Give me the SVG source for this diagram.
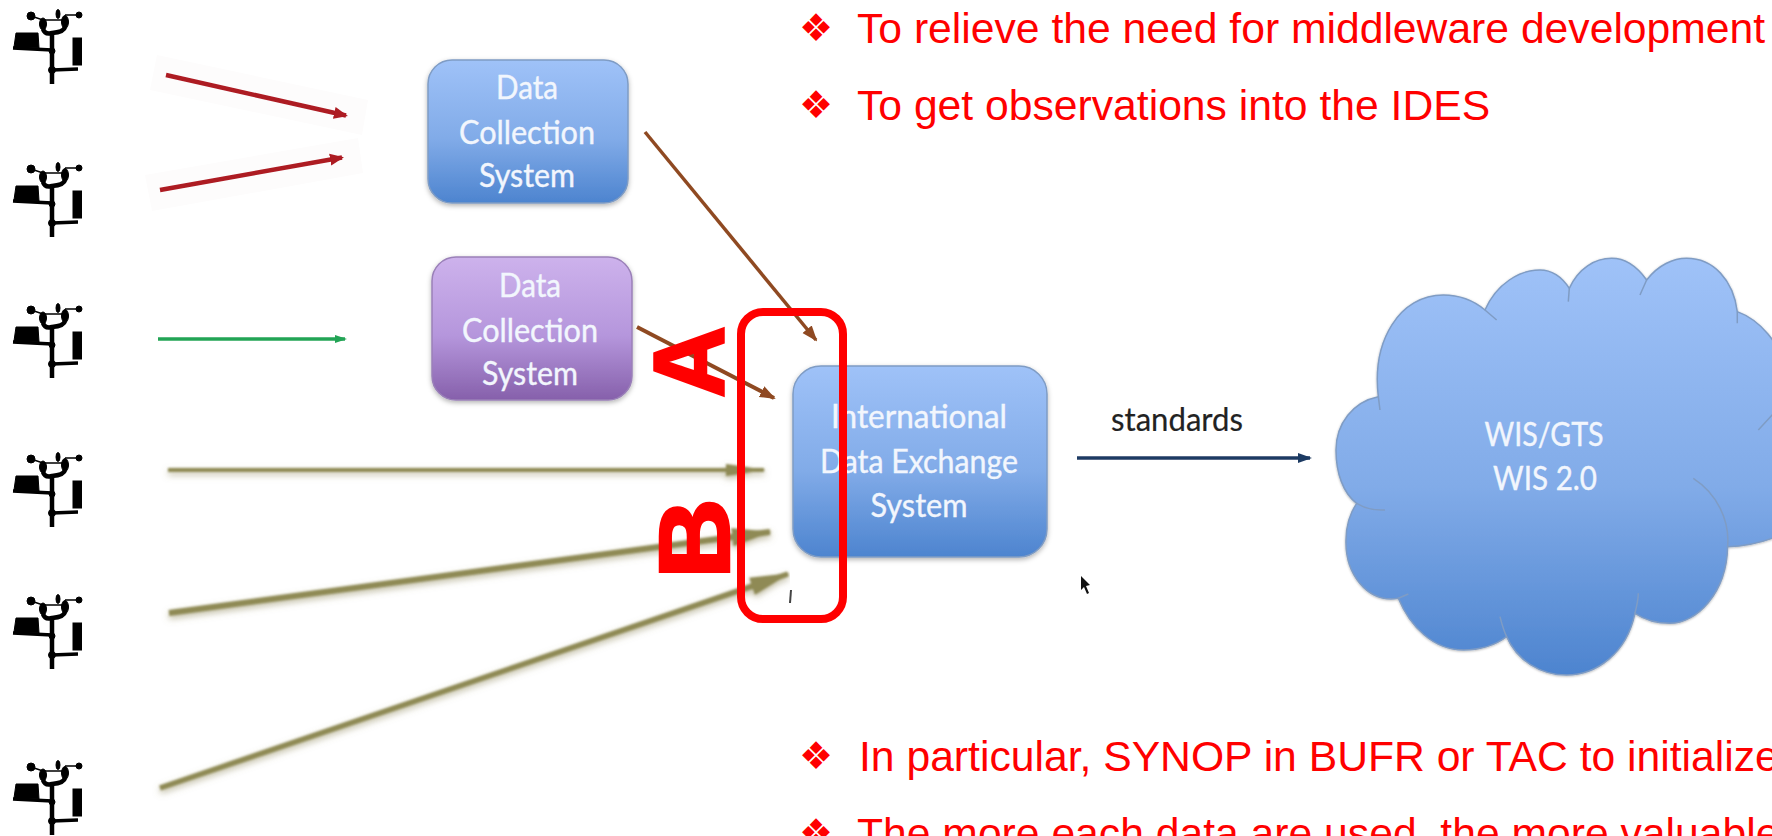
<svg xmlns="http://www.w3.org/2000/svg" xmlns:xlink="http://www.w3.org/1999/xlink" width="1772" height="836" viewBox="0 0 1772 836">
<style>
.box{stroke:#7f9cc4;stroke-width:1.5;filter:url(#shadow)}
.lbl{font-family:Lato,"Open Sans",sans-serif;font-size:33px;fill:#f2f6fd;stroke:#f2f6fd;stroke-width:.4;text-anchor:middle}
.red{font-family:"Liberation Sans",Arial,sans-serif;font-size:42.67px;fill:#ff0000}
.bul{font-family:"DejaVu Sans",sans-serif;font-size:38px;fill:#ff0000;text-anchor:middle}
.big{font-family:"Liberation Sans",Arial,sans-serif;font-size:100px;font-weight:700;fill:#ff0000;stroke:#ff0000;stroke-width:2.5}
.cn{fill:none}
.st{fill:#000;stroke:#000}
</style>
<defs>
<linearGradient id="blue" x1="0" y1="0" x2="0" y2="1"><stop offset="0" stop-color="#9fc2f8"/><stop offset=".55" stop-color="#81abe8"/><stop offset="1" stop-color="#4d84cf"/></linearGradient>
<linearGradient id="purple" x1="0" y1="0" x2="0" y2="1"><stop offset="0" stop-color="#cdb2ec"/><stop offset=".55" stop-color="#b596dc"/><stop offset="1" stop-color="#8660ab"/></linearGradient>
<filter id="shadow" x="-5%" y="-5%" width="110%" height="115%"><feDropShadow dx="0" dy="2" stdDeviation="2.5" flood-color="#000" flood-opacity=".3"/></filter>
<filter id="soft" filterUnits="userSpaceOnUse" x="0" y="0" width="1772" height="836"><feGaussianBlur stdDeviation="0.6"/></filter>
<filter id="softer" filterUnits="userSpaceOnUse" x="0" y="0" width="1772" height="836"><feGaussianBlur stdDeviation="0.8" result="a"/><feDropShadow in="a" dx="0" dy="3" stdDeviation="3" flood-color="#8a8456" flood-opacity=".55"/></filter>
<marker id="mRed" markerUnits="userSpaceOnUse" viewBox="0 0 14 14" refX="12" refY="7" markerWidth="14" markerHeight="14" orient="auto"><path d="M0,1 L14,7 L0,13 z" fill="#ad1a22"/></marker>
<marker id="mGreen" markerUnits="userSpaceOnUse" viewBox="0 0 12 12" refX="10" refY="6" markerWidth="12" markerHeight="12" orient="auto"><path d="M0,2 L12,6 L0,10 z" fill="#23a455"/></marker>
<marker id="mOlive" markerUnits="userSpaceOnUse" viewBox="0 0 40 16" refX="38" refY="8" markerWidth="40" markerHeight="16" orient="auto"><path d="M0,2 L40,8 L0,14 z" fill="#8f8a55"/></marker>
<marker id="mOliveB" markerUnits="userSpaceOnUse" viewBox="0 0 40 22" refX="38" refY="11" markerWidth="40" markerHeight="22" orient="auto"><path d="M0,2 L40,11 L0,20 z" fill="#8f8a55"/></marker>
<marker id="mBrown" markerUnits="userSpaceOnUse" viewBox="0 0 16 14" refX="14" refY="7" markerWidth="16" markerHeight="14" orient="auto"><path d="M0,1 L16,7 L0,13 z" fill="#8f4a20"/></marker>
<marker id="mNavy" markerUnits="userSpaceOnUse" viewBox="0 0 14 12" refX="12" refY="6" markerWidth="14" markerHeight="12" orient="auto"><path d="M0,1 L14,6 L0,11 z" fill="#1f3a63"/></marker>
<g id="station">
<circle class="st" cx="31" cy="16" r="4"/><circle class="st" cx="79" cy="15" r="3"/>
<ellipse class="st" cx="43" cy="24" rx="3.5" ry="6"/><ellipse class="st" cx="58" cy="14" rx="2" ry="4.5"/><ellipse class="st" cx="65" cy="22" rx="3.5" ry="6.5"/>
<path d="M34,17 L43,20 L65,20 M65,15 L79,15" fill="none" stroke="#000" stroke-width="1.5"/>
<path d="M43,29 Q45,35 52,33 Q64,32 65,27 M52,33 V84" fill="none" stroke="#000" stroke-width="4.5"/>
<path class="st" d="M16,33 L38,33 L39,48 L14,47 z"/>
<path d="M13,48 L52,50 M52,70 L78,69" fill="none" stroke="#000" stroke-width="3.5"/>
<circle class="st" cx="52" cy="51" r="3"/><circle class="st" cx="52" cy="70" r="3.5"/>
<rect class="st" x="73" y="38" width="8.5" height="27"/>
</g>
</defs>
<rect width="1772" height="836" fill="#fff"/>
<polygon points="157,55 368,100 362,135 150,90" fill="#fdfcfc"/>
<polygon points="145,175 358,138 363,173 152,211" fill="#fdfcfc"/>
<g id="stations" filter="url(#soft)">
<use xlink:href="#station" href="#station"/>
<use xlink:href="#station" href="#station" y="153"/>
<use xlink:href="#station" href="#station" y="294"/>
<use xlink:href="#station" href="#station" y="443"/>
<use xlink:href="#station" href="#station" y="585"/>
<use xlink:href="#station" href="#station" y="751"/>
</g>
<g id="connectors">
<g filter="url(#soft)">
<line class="cn" x1="166" y1="75" x2="346" y2="115.5" stroke="#ad1a22" stroke-width="4.5" marker-end="url(#mRed)"/>
<line class="cn" x1="160" y1="190" x2="342" y2="157.5" stroke="#ad1a22" stroke-width="4.5" marker-end="url(#mRed)"/>
<line class="cn" x1="158" y1="339" x2="345" y2="339" stroke="#23a455" stroke-width="3.5" marker-end="url(#mGreen)"/>
<line class="cn" x1="645" y1="132" x2="816" y2="340" stroke="#8f4a20" stroke-width="3.5" marker-end="url(#mBrown)"/>
<line class="cn" x1="637" y1="327" x2="774" y2="398" stroke="#8f4a20" stroke-width="4" marker-end="url(#mBrown)"/>
<line class="cn" x1="1077" y1="458" x2="1310" y2="458" stroke="#1f3a63" stroke-width="3.5" marker-end="url(#mNavy)"/>
</g>
<g filter="url(#softer)">
<line class="cn" x1="168" y1="470" x2="764" y2="470" stroke="#8f8a55" stroke-width="4" marker-end="url(#mOlive)"/>
<line class="cn" x1="169" y1="613" x2="770" y2="532" stroke="#8f8a55" stroke-width="6" marker-end="url(#mOliveB)"/>
<line class="cn" x1="160" y1="788" x2="788" y2="574" stroke="#8f8a55" stroke-width="5.5" marker-end="url(#mOliveB)"/>
</g>
</g>
<rect x="790" y="552" width="60" height="90" fill="#fff"/>
<path d="M791,590 L790,603" stroke="#444" stroke-width="2" fill="none"/>
<g id="dcs1"><rect class="box" x="428" y="60" width="200" height="143" rx="24" fill="url(#blue)"/><text class="lbl" x="527" y="99" textLength="62" lengthAdjust="spacingAndGlyphs">Data</text><text class="lbl" x="527" y="144" textLength="136" lengthAdjust="spacingAndGlyphs">Collection</text><text class="lbl" x="527" y="187" textLength="96" lengthAdjust="spacingAndGlyphs">System</text></g>
<g id="dcs2"><rect class="box" x="432" y="257" width="200" height="143" rx="24" fill="url(#purple)" style="stroke:#9a80b8"/><text class="lbl" x="530" y="297" textLength="62" lengthAdjust="spacingAndGlyphs">Data</text><text class="lbl" x="530" y="342" textLength="136" lengthAdjust="spacingAndGlyphs">Collection</text><text class="lbl" x="530" y="385" textLength="96" lengthAdjust="spacingAndGlyphs">System</text></g>
<g id="ides"><rect class="box" x="793" y="366" width="254" height="191" rx="28" fill="url(#blue)"/><text class="lbl" x="919" y="428" textLength="176" lengthAdjust="spacingAndGlyphs">International</text><text class="lbl" x="919" y="473" textLength="198" lengthAdjust="spacingAndGlyphs">Data Exchange</text><text class="lbl" x="919" y="517" textLength="97" lengthAdjust="spacingAndGlyphs">System</text></g>
<g id="standards"><text class="lbl" x="1177" y="431" textLength="132" lengthAdjust="spacingAndGlyphs" style="fill:#222;stroke:#222;stroke-width:.2">standards</text></g>
<g id="cloud">
<g transform="translate(1300,230) scale(.3333)">
<path d="M235,500 C215,330 300,195 430,195 C480,195 525,215 555,240 C590,160 660,120 720,120 C755,120 785,140 808,175 C835,115 885,85 935,85 C980,85 1015,115 1040,150 C1075,105 1120,85 1160,85 C1240,85 1300,150 1312,245 C1380,270 1440,340 1460,420 L1500,890 C1440,920 1360,950 1283,950 C1280,1090 1190,1180 1110,1180 C1070,1180 1035,1170 1005,1150 C980,1270 890,1335 800,1335 C720,1335 650,1290 620,1220 C580,1250 530,1260 490,1260 C400,1260 330,1190 295,1105 C200,1120 135,1030 138,930 C138,890 150,850 170,820 C130,790 108,730 108,660 C108,580 160,515 235,500 Z" fill="url(#blue)" stroke="#7f9cc4" stroke-width="4.5" filter="url(#shadow)"/>
<path d="M555,240 L590,270 M808,175 L805,215 M1040,150 L1020,195 M1312,245 L1312,280 M1375,600 L1440,530 M1180,745 C1250,790 1290,870 1283,950 M1015,1090 C1015,1110 1010,1130 1005,1150 M600,1160 C605,1180 610,1200 620,1220 M295,1105 L325,1092 M170,820 C195,835 225,842 255,840 M235,500 L240,540" fill="none" stroke="#7f9cc4" stroke-width="4.5"/>
</g>
<text class="lbl" x="1544" y="446" textLength="119" lengthAdjust="spacingAndGlyphs">WIS/GTS</text><text class="lbl" x="1545" y="490" textLength="104" lengthAdjust="spacingAndGlyphs">WIS 2.0</text>
</g>
<path id="pointer" d="M1081,576 L1081,590 L1084,587 L1087,594 L1089,593 L1086,586 L1090,585 z" fill="#111"/>
<g id="highlight">
<rect x="741" y="312" width="102" height="307" rx="22" fill="none" stroke="#ff0000" stroke-width="8"/>
<text class="big" transform="translate(724,398) rotate(-90)">A</text>
<text class="big" transform="translate(729,579) rotate(-90) scale(1.12,1)">B</text>
</g>
<g id="notes">
<text class="bul" x="816" y="41">❖</text><text class="red" x="857" y="43">To relieve the need for middleware development</text>
<text class="bul" x="816" y="118">❖</text><text class="red" x="857" y="120">To get observations into the IDES</text>
<text class="bul" x="816" y="769">❖</text><text class="red" x="859" y="771">In particular, SYNOP in BUFR or TAC to initialize</text>
<text class="bul" x="816" y="846">❖</text><text class="red" x="857" y="848">The more each data are used, the more valuable</text>
</g>
</svg>
